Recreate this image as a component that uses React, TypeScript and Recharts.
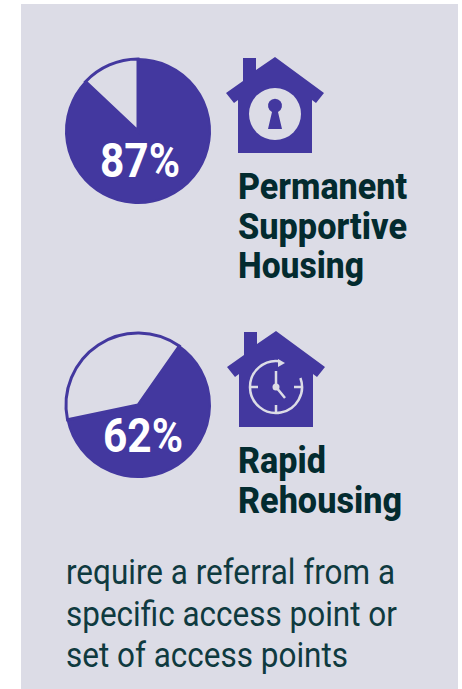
import { PieChart, Pie, Cell } from 'recharts'

const segmentNames = ['share', 'rest']
const permanentValues = [87, 13]
const rapidValues = [62, 38]

const titlePermanent = ['Permanent', 'Supportive', 'Housing']
const titleRapid = ['Rapid', 'Rehousing']
const noteLines = ['require a referral from a', 'specific access point or', 'set of access points']

const purple = '#43389f'
const panel = '#dcdce6'
const dark = '#032b2f'
const noteColor = '#0f3a3f'

const toRows = (values: number[]) => values.map((value, i) => ({ name: segmentNames[i], value }))

// condensed type is not installed, so Roboto gets squeezed to the measured width
function Squeezed({ x, y, w, size, weight, fill, children }: any) {
  return (
    <text x={x} y={y} textLength={w} lengthAdjust="spacingAndGlyphs" fontFamily="Roboto" fontSize={size} fontWeight={weight} fill={fill}>
      {children}
    </text>
  )
}

function House({ x, y }: { x: number; y: number }) {
  return (
    <path
      transform={`translate(${x} ${y})`}
      fill={purple}
      d="M17 0 H30 V12 L49 -1 L98 35 L90 45 L86 42 V95 H12 V42 L8 45 L0 35 L17 23 Z"
    />
  )
}

export default function App() {
  return (
    <div style={{ position: 'absolute', left: 0, top: 0, width: 462, height: 689, background: '#fff' }}>
      <div style={{ position: 'absolute', left: 21, top: 4, width: 437, height: 685, background: panel }} />
      <div style={{ position: 'absolute', left: 0, top: 0 }}>
        <PieChart width={462} height={689} margin={{ top: 0, right: 0, bottom: 0, left: 0 }}>
          <Pie
            data={toRows(permanentValues)}
            dataKey="value"
            nameKey="name"
            cx={138}
            cy={131}
            outerRadius={72}
            startAngle={90}
            endAngle={-270}
            isAnimationActive={false}
          >
            <Cell fill={purple} stroke={purple} strokeWidth={2} />
            <Cell fill={panel} stroke={purple} strokeWidth={3} />
          </Pie>
          <Pie
            data={toRows(rapidValues)}
            dataKey="value"
            nameKey="name"
            cx={138}
            cy={405}
            outerRadius={72}
            startAngle={55}
            endAngle={-305}
            isAnimationActive={false}
          >
            <Cell fill={purple} stroke={purple} strokeWidth={2} />
            <Cell fill={panel} stroke={purple} strokeWidth={3} />
          </Pie>
        </PieChart>
      </div>
      {/* pies paint over chart children, so labels and icons sit in their own layer */}
      <svg width={462} height={689} style={{ position: 'absolute', left: 0, top: 0 }}>
        <Squeezed x={100} y={177} w={80} size={48} weight={700} fill="#fff">{`${permanentValues[0]}%`}</Squeezed>
        <Squeezed x={103} y={452} w={80} size={48} weight={700} fill="#fff">{`${rapidValues[0]}%`}</Squeezed>

        <House x={226} y={58} />
        <circle cx={275} cy={114} r={26} fill={panel} />
        <path fill={purple} d="M268 129 L272 112 A7 7 0 1 1 278 112 L282 129 Z" />

        <House x={227} y={332} />
        <g fill="none" stroke={panel} strokeWidth={2.5}>
          <path d="M280 361.3 A26 26 0 1 0 300.4 378" />
          <path d="M276 371 V387 L285 398" />
          <path d="M276 405 V412 M250 387 H258 M294 387 H301" />
        </g>
        <path d="M278 359 L285 363 L278 367 Z" fill={panel} />
        <circle cx={276} cy={387} r={3.5} fill={panel} />

        <Squeezed x={238} y={199} w={169} size={37} weight={800} fill={dark}>{titlePermanent[0]}</Squeezed>
        <Squeezed x={238} y={239} w={169} size={37} weight={800} fill={dark}>{titlePermanent[1]}</Squeezed>
        <Squeezed x={238} y={278} w={126} size={37} weight={800} fill={dark}>{titlePermanent[2]}</Squeezed>
        <Squeezed x={238} y={473} w={88} size={37} weight={800} fill={dark}>{titleRapid[0]}</Squeezed>
        <Squeezed x={238} y={513} w={164} size={37} weight={800} fill={dark}>{titleRapid[1]}</Squeezed>

        <Squeezed x={66} y={584} w={329} size={35} weight={400} fill={noteColor}>{noteLines[0]}</Squeezed>
        <Squeezed x={66} y={626} w={331} size={35} weight={400} fill={noteColor}>{noteLines[1]}</Squeezed>
        <Squeezed x={66} y={667} w={282} size={35} weight={400} fill={noteColor}>{noteLines[2]}</Squeezed>
      </svg>
    </div>
  )
}
